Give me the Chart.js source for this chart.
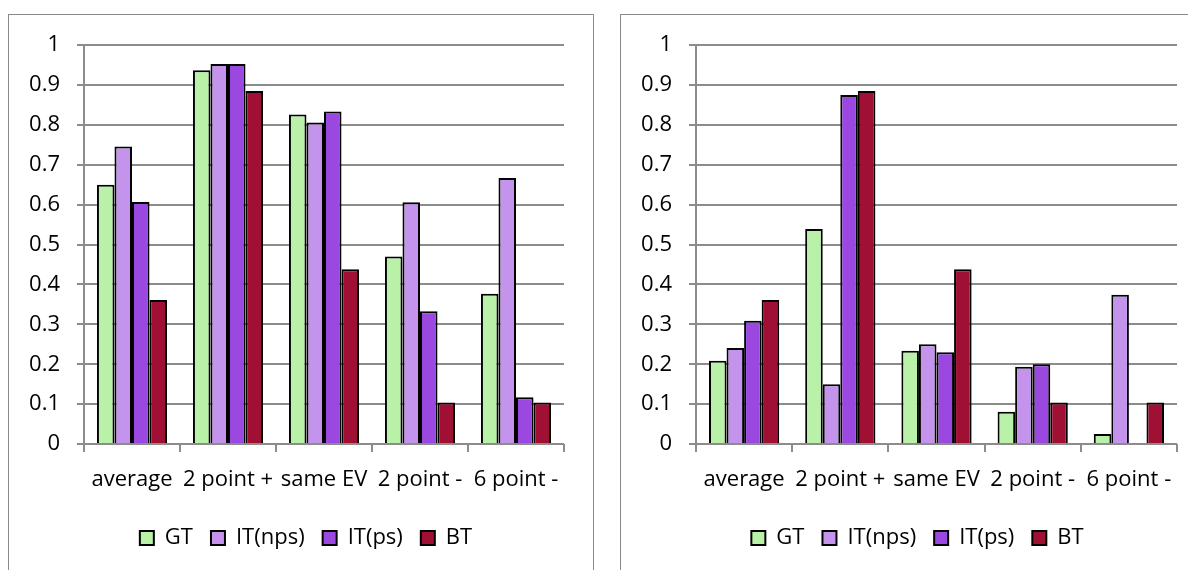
<!DOCTYPE html>
<html>
<head>
<meta charset="utf-8">
<script src="https://cdn.jsdelivr.net/npm/chart.js@4.4.0/dist/chart.umd.min.js"></script>
<style>
  body { margin: 0; background: #fff; width: 1188px; height: 570px; overflow: hidden; position: relative; }
  .box { position: absolute; top: 14px; border: 1px solid #8a8a8a; border-bottom: none; height: 600px; }
  #boxLeft { left: 8px; width: 584px; }
  #boxRight { left: 620px; width: 600px; }
  canvas { position: absolute; }
</style>
</head>
<body>
<div class="box" id="boxLeft"></div>
<div class="box" id="boxRight"></div>
<canvas id="chartLeft" width="584" height="555" style="left:9px;top:15px"></canvas>
<canvas id="chartRight" width="567" height="555" style="left:621px;top:15px"></canvas>
<script>
const categories = ["average", "2 point +", "same EV", "2 point -", "6 point -"];
const seriesNames = ["GT", "IT(nps)", "IT(ps)", "BT"];
const seriesColors = ["#b9f1a9", "#c493ec", "#9a48e0", "#a01034"];

// left chart
const leftGT = [0.65, 0.937, 0.826, 0.47, 0.377];
const leftITnps = [0.746, 0.953, 0.806, 0.606, 0.667];
const leftITps = [0.607, 0.953, 0.834, 0.333, 0.117];
const leftBT = [0.361, 0.885, 0.438, 0.104, 0.104];

// right chart
const rightGT = [0.209, 0.539, 0.234, 0.081, 0.025];
const rightITnps = [0.241, 0.15, 0.25, 0.194, 0.374];
const rightITps = [0.309, 0.875, 0.23, 0.2, 0];
const rightBT = [0.361, 0.885, 0.438, 0.104, 0.104];

const yTicks = [0, 0.1, 0.2, 0.3, 0.4, 0.5, 0.6, 0.7, 0.8, 0.9, 1];

const fontFamily = "'Open Sans', 'Noto Sans', sans-serif";
const fontSize = 22;
const gridColor = "#8c8c8c";

// moves the legend to a fixed centre (canvas coords) after layout
const legendPlacer = {
    id: "legendPlacer",
    afterLayout(chart, args, opts) {
        const lg = chart.legend;
        if (!lg) return;
        const dx = opts.cx - (lg.left + lg.right) / 2;
        const dy = opts.cy - (lg.top + lg.bottom) / 2;
        lg.left += dx; lg.right += dx;
        lg.top += dy; lg.bottom += dy;
        if (lg.adjustHitBoxes) lg.adjustHitBoxes();
    }
};

function makeConfig(series, padRight, legendCx) {
    return {
        type: "bar",
        data: {
            labels: categories,
            datasets: series.map((vals, i) => ({
                label: seriesNames[i],
                data: vals,
                backgroundColor: seriesColors[i],
                borderColor: "#000",
                borderWidth: 2,
                categoryPercentage: 0.73,
                barPercentage: 1
            }))
        },
        options: {
            responsive: false,
            animation: false,
            layout: { padding: { left: 0, right: padRight, top: 28, bottom: 18 } },
            plugins: {
                tooltip: { enabled: false },
                legendPlacer: { cx: legendCx, cy: 519 },
                legend: {
                    position: "bottom",
                    labels: {
                        boxWidth: 14,
                        boxHeight: 14,
                        padding: 18,
                        color: "#000",
                        font: { family: fontFamily, size: fontSize }
                    }
                }
            },
            scales: {
                x: {
                    afterFit: (s) => { s.height = 58; },
                    grid: {
                        offset: true,
                        drawOnChartArea: false,
                        drawTicks: true,
                        tickLength: 8,
                        color: gridColor,
                        lineWidth: 2
                    },
                    border: { display: false },
                    ticks: {
                        color: "#000",
                        padding: 15,
                        maxRotation: 0,
                        autoSkip: false,
                        font: { family: fontFamily, size: fontSize }
                    }
                },
                y: {
                    min: 0,
                    max: 1,
                    afterFit: (s) => { s.width = 75; },
                    afterBuildTicks: (s) => { s.ticks = yTicks.map(v => ({ value: v })); },
                    grid: {
                        color: gridColor,
                        lineWidth: 2,
                        tickLength: 7
                    },
                    border: { color: gridColor, width: 2 },
                    ticks: {
                        color: "#000",
                        padding: 17,
                        callback: (v) => String(+v.toFixed(1)),
                        font: { family: fontFamily, size: fontSize }
                    }
                }
            }
        },
        plugins: [legendPlacer]
    };
}

new Chart(document.getElementById("chartLeft"),
    makeConfig([leftGT, leftITnps, leftITps, leftBT], 29, 297));
new Chart(document.getElementById("chartRight"),
    makeConfig([rightGT, rightITnps, rightITps, rightBT], 11, 296.5));
</script>
</body>
</html>
